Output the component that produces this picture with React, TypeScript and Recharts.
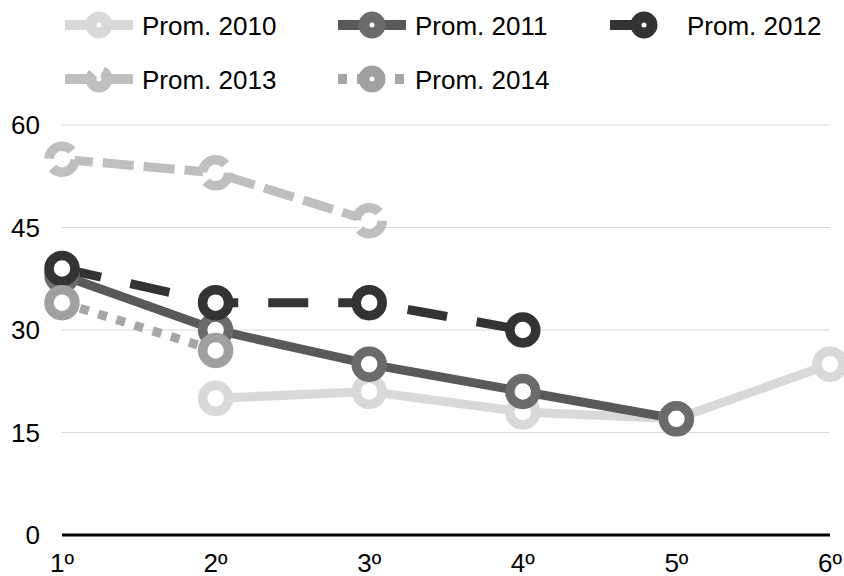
import React from 'react';
import { LineChart, Line, XAxis, YAxis, CartesianGrid, Legend } from 'recharts';

const categories = ['1º', '2º', '3º', '4º', '5º', '6º'];
const prom2010 = [null, 20, 21, 18, 17, 25];
const prom2011 = [38, 30, 25, 21, 17, null];
const prom2012 = [39, 34, 34, 30, null, null];
const prom2013 = [55, 53, 46, null, null, null];
const prom2014 = [34, 27, null, null, null, null];
const yTicks = [0, 15, 30, 45, 60];

const FONT = '"Liberation Sans", Arial, Helvetica, sans-serif';

const series = [
  { key: 'p2010', name: 'Prom. 2010', values: prom2010, color: '#d9d9d9', marker: '#d9d9d9', dash: undefined as string | undefined, dotDash: undefined as string | undefined },
  { key: 'p2011', name: 'Prom. 2011', values: prom2011, color: '#595959', marker: '#6b6b6b', dash: undefined, dotDash: undefined },
  { key: 'p2012', name: 'Prom. 2012', values: prom2012, color: '#333333', marker: '#333333', dash: '40 30', dotDash: 'none' },
  { key: 'p2013', name: 'Prom. 2013', values: prom2013, color: '#bfbfbf', marker: '#bfbfbf', dash: '31 10', dotDash: '31 10' },
  { key: 'p2014', name: 'Prom. 2014', values: prom2014, color: '#a6a6a6', marker: '#a0a0a0', dash: '9 10', dotDash: 'none' },
];

const data = categories.map((cat, i) => {
  const row: Record<string, any> = { cat };
  series.forEach((s) => {
    row[s.key] = s.values[i];
  });
  return row;
});

const legendSlots = [
  [65, 25],
  [338, 25],
  [610, 25],
  [65, 79],
  [338, 79],
];

function LegendContent() {
  return (
    <svg width={844} height={105} style={{ display: 'block' }}>
      {series.map((s, i) => {
        const [x, y] = legendSlots[i];
        return (
          <g key={s.key}>
            <line x1={x} y1={y} x2={x + 68} y2={y} stroke={s.color} strokeWidth={10} strokeDasharray={s.dash} />
            <circle cx={x + 34} cy={y} r={8} fill="#fff" stroke={s.marker} strokeWidth={11} strokeDasharray={s.dotDash} />
            <text x={x + 77} y={y + 9.5} fontSize={26} fontFamily={FONT} fill="#000">
              {s.name}
            </text>
          </g>
        );
      })}
    </svg>
  );
}

export default function App() {
  return (
    <div style={{ width: 844, height: 576, background: '#fff' }}>
      <style>{'body{margin:0;}'}</style>
      <LineChart
        width={844}
        height={576}
        data={data}
        margin={{ top: 125, right: 14, bottom: 0, left: 0 }}
        style={{ fontFamily: FONT }}
      >
        <CartesianGrid vertical={false} stroke="#d9d9d9" strokeWidth={1} />
        <XAxis
          dataKey="cat"
          height={41}
          interval={0}
          axisLine={{ stroke: '#000', strokeWidth: 3 }}
          tickLine={false}
          tickSize={0}
          tickMargin={19}
          tick={{ fontSize: 26, fill: '#000', fontFamily: FONT }}
        />
        <YAxis
          width={62}
          domain={[0, 60]}
          ticks={yTicks}
          axisLine={false}
          tickLine={false}
          tickSize={0}
          tickMargin={22}
          tick={{ fontSize: 26, fill: '#000', fontFamily: FONT }}
        />
        <Legend
          verticalAlign="middle"
          align="center"
          layout="horizontal"
          wrapperStyle={{ top: 0, left: 0, width: 844, height: 105 }}
          content={() => <LegendContent />}
        />
        {series.map((s) => (
          <Line
            key={s.key}
            type="linear"
            dataKey={s.key}
            name={s.name}
            stroke={s.color}
            strokeWidth={9}
            strokeDasharray={s.dash}
            connectNulls={false}
            dot={{ r: 13, strokeWidth: 9.5, fill: '#fff', stroke: s.marker, strokeDasharray: s.dotDash }}
            activeDot={false}
            isAnimationActive={false}
          />
        ))}
      </LineChart>
    </div>
  );
}
